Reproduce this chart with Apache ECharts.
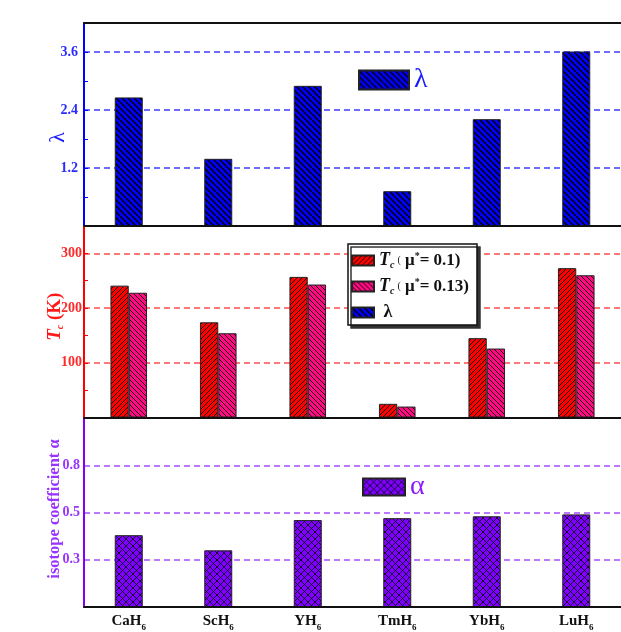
<!DOCTYPE html>
<html>
<head>
<meta charset="utf-8">
<script src="https://cdn.jsdelivr.net/npm/echarts@6/dist/echarts.min.js"></script>
<style>
  html, body { margin: 0; padding: 0; background: #fff; }
  #main { width: 621px; height: 632px; }
</style>
</head>
<body>
<div id="main"></div>
<script>
// compounds (last digit is the subscript)
let categories = ['CaH6', 'ScH6', 'YH6', 'TmH6', 'YbH6', 'LuH6'];
// electron-phonon coupling λ
let lambdaVals = [2.66, 1.39, 2.90, 0.72, 2.21, 3.61];
// Tc (K) for μ* = 0.1 and μ* = 0.13
let tcMu010 = [241, 174, 257, 25, 145, 273];
let tcMu013 = [228, 154, 243, 20, 126, 260];
// isotope coefficient α
let alphaVals = [0.38, 0.30, 0.46, 0.47, 0.48, 0.49];

let serif = 'Liberation Serif, Times New Roman, serif';

// hatch fill as a repeating canvas pattern
function hatch(bg, dirs, size, lw) {
    let c = document.createElement('canvas');
    c.width = size; c.height = size;
    let g = c.getContext('2d');
    g.fillStyle = bg;
    g.fillRect(0, 0, size, size);
    g.strokeStyle = '#000';
    g.lineWidth = lw;
    dirs.forEach(function (d) {
        for (let k = -1; k <= 1; k++) {
            let x0 = k * size;
            g.beginPath();
            if (d === '/') {
                g.moveTo(x0, size);
                g.lineTo(x0 + size, 0);
            } else {
                g.moveTo(x0, 0);
                g.lineTo(x0 + size, size);
            }
            g.stroke();
        }
    });
    return { image: c, repeat: 'repeat' };
}

let blueFill = hatch('#0000ff', ['\\'], 6, 1.5);
let redFill = hatch('#ff0000', ['/'], 5, 0.9);
let pinkFill = hatch('#ff0a82', ['\\'], 5, 0.9);
let purpleFill = hatch('#7f00ff', ['/', '\\'], 7, 0.8);

function yLabel(max, digits) {
    return function (v) {
        if (v === 0 || v >= max - 1e-9) return '';
        return digits ? v.toFixed(digits) : String(v);
    };
}

function baseX(grid) {
    return {
        type: 'category',
        gridIndex: grid,
        data: categories,
        z: 5,
        axisLine: { show: true, lineStyle: { color: '#111', width: 2 } },
        axisTick: { show: false },
        axisLabel: { show: false },
        splitLine: { show: false }
    };
}

let chart = echarts.init(document.getElementById('main'));

let xLabelled = baseX(2);
xLabelled.axisLabel = {
    show: true,
    margin: 4,
    formatter: function (v) {
        return '{a|' + v.slice(0, -1) + '}{s|' + v.slice(-1) + '}';
    },
    rich: {
        a: { fontFamily: serif, fontWeight: 'bold', fontSize: 15, color: '#111' },
        s: { fontFamily: serif, fontWeight: 'bold', fontSize: 9, color: '#111', padding: [12, 0, 0, 0] }
    }
};
let xTop = baseX(0);
xTop.position = 'top';

let option = {
    animation: false,
    backgroundColor: '#fff',
    grid: [
        { left: 84, top: 23, width: 544, height: 203 },
        { left: 84, top: 226, width: 544, height: 191.5 },
        { left: 84, top: 418, width: 544, height: 191 }
    ],
    legend: [
        {
            data: ['λ'],
            left: 358, top: 66,
            padding: 0,
            icon: 'rect',
            itemWidth: 50, itemHeight: 19,
            textStyle: { fontFamily: serif, fontSize: 28, color: '#1a1aff' }
        },
        {
            data: ['Tc1', 'Tc2', 'λ'],
            orient: 'vertical',
            left: 348, top: 244,
            width: 129,
            icon: 'rect',
            itemWidth: 22, itemHeight: 10, itemGap: 5,
            padding: [6, 8, 2, 3],
            backgroundColor: '#fff',
            borderColor: '#111', borderWidth: 1.5,
            shadowColor: '#333', shadowOffsetX: 3, shadowOffsetY: 3, shadowBlur: 0,
            formatter: function (name) {
                if (name === 'Tc1') return '{t|T}{c|c}{p|(}{m| μ}{u|*}{n|= 0.1)}';
                if (name === 'Tc2') return '{t|T}{c|c}{p|(}{m| μ}{u|*}{n|= 0.13)}';
                return '{l| λ}';
            },
            textStyle: {
                lineHeight: 21,
                rich: {
                    t: { fontFamily: serif, fontStyle: 'italic', fontWeight: 'bold', fontSize: 18, color: '#111' },
                    c: { fontFamily: serif, fontStyle: 'italic', fontWeight: 'bold', fontSize: 10, color: '#111', padding: [9, 3, 0, 0] },
                    p: { fontFamily: serif, fontSize: 10, color: '#111' },
                    m: { fontFamily: serif, fontWeight: 'bold', fontSize: 17, color: '#111' },
                    u: { fontFamily: serif, fontWeight: 'bold', fontSize: 10, color: '#111', padding: [0, 0, 9, 0] },
                    n: { fontFamily: serif, fontWeight: 'bold', fontSize: 17, color: '#111' },
                    l: { fontFamily: serif, fontWeight: 'bold', fontSize: 18, color: '#111' }
                }
            }
        },
        {
            data: ['α'],
            left: 362, top: 473,
            padding: 0,
            icon: 'rect',
            itemWidth: 42, itemHeight: 17,
            textStyle: { fontFamily: serif, fontSize: 28, color: '#8c1aff' }
        }
    ],
    xAxis: [baseX(0), baseX(1), xLabelled, xTop],
    yAxis: [
        {
            type: 'value', gridIndex: 0,
            min: 0, max: 4.2, interval: 1.2,
            name: 'λ',
            nameLocation: 'middle', nameGap: 15, nameRotate: 90, nameMoveOverlap: false,
            nameTextStyle: { fontFamily: serif, fontSize: 22, color: '#1a1aff', padding: [0, 26, 0, 0] },
            axisLine: { show: true, lineStyle: { color: '#0000ff', width: 2 } },
            axisTick: { show: true, inside: true, length: 4, lineStyle: { color: '#0000ff' } },
            minorTick: { show: true, splitNumber: 2, length: 4, lineStyle: { color: '#0000ff' } },
            axisLabel: {
                margin: 6, formatter: yLabel(4.2, 1),
                fontFamily: serif, fontWeight: 'bold', fontSize: 14, color: '#2b2bff'
            },
            splitLine: { show: true, lineStyle: { color: '#3d3dff', type: [6, 4], width: 1.5 } }
        },
        {
            type: 'value', gridIndex: 1,
            min: 0, max: 350, interval: 100,
            name: '{t|T}{c|c}{k| (K)}',
            nameLocation: 'middle', nameGap: 19, nameRotate: 90, nameMoveOverlap: false,
            nameTextStyle: {
                padding: [0, 0, 0, 10],
                rich: {
                    t: { fontFamily: serif, fontStyle: 'italic', fontWeight: 'bold', fontSize: 19, color: '#ff1a1a' },
                    c: { fontFamily: serif, fontStyle: 'italic', fontWeight: 'bold', fontSize: 10, color: '#ff1a1a', padding: [10, 0, 0, 0] },
                    k: { fontFamily: serif, fontWeight: 'bold', fontSize: 19, color: '#ff1a1a' }
                }
            },
            axisLine: { show: true, lineStyle: { color: '#ff0000', width: 2 } },
            axisTick: { show: true, inside: true, length: 4, lineStyle: { color: '#ff0000' } },
            minorTick: { show: true, splitNumber: 2, length: 4, lineStyle: { color: '#ff0000' } },
            axisLabel: {
                margin: 2, formatter: yLabel(350, 0),
                fontFamily: serif, fontWeight: 'bold', fontSize: 14, color: '#ff2a2a'
            },
            splitLine: { show: true, lineStyle: { color: '#ff4d4d', type: [6, 4], width: 1.5 } }
        },
        {
            type: 'value', gridIndex: 2,
            min: 0, max: 1, interval: 0.25,
            name: 'isotope coefficient α',
            nameLocation: 'middle', nameGap: 21, nameRotate: 90, nameMoveOverlap: false,
            nameTextStyle: { fontFamily: serif, fontWeight: 'bold', fontSize: 16.5, color: '#9933ff', padding: [0, 0, 0, 7] },
            axisLine: { show: true, lineStyle: { color: '#8000ff', width: 2 } },
            axisTick: { show: false },
            axisLabel: {
                margin: 4, formatter: yLabel(1, 1),
                fontFamily: serif, fontWeight: 'bold', fontSize: 14, color: '#9933ff'
            },
            splitLine: { show: true, lineStyle: { color: '#a64dff', type: [6, 4], width: 1.5 } }
        }
    ],
    series: [
        {
            name: 'λ', type: 'bar', xAxisIndex: 0, yAxisIndex: 0,
            data: lambdaVals, barWidth: 28,
            itemStyle: { color: blueFill, borderColor: '#222', borderWidth: 1 }
        },
        {
            name: 'Tc1', type: 'bar', xAxisIndex: 1, yAxisIndex: 1,
            data: tcMu010, barWidth: 18.3, barGap: '0%',
            itemStyle: { color: redFill, borderColor: '#222', borderWidth: 1 }
        },
        {
            name: 'Tc2', type: 'bar', xAxisIndex: 1, yAxisIndex: 1,
            data: tcMu013, barWidth: 18.3, barGap: '0%',
            itemStyle: { color: pinkFill, borderColor: '#222', borderWidth: 1 }
        },
        {
            name: 'α', type: 'bar', xAxisIndex: 2, yAxisIndex: 2,
            data: alphaVals, barWidth: 28,
            itemStyle: { color: purpleFill, borderColor: '#222', borderWidth: 1 }
        }
    ]
};

chart.setOption(option);
</script>
</body>
</html>
